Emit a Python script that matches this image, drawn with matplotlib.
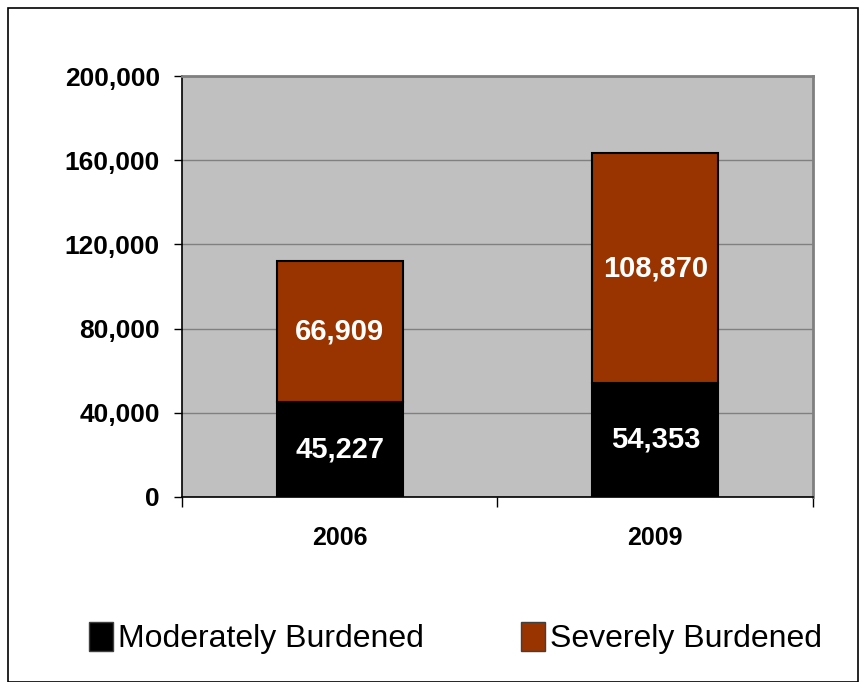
import numpy as np
import matplotlib
matplotlib.use('Agg')
import matplotlib.pyplot as plt
from matplotlib.patches import Rectangle, Patch
from matplotlib.ticker import FuncFormatter

plt.rcParams['font.family'] = ['Liberation Sans', 'DejaVu Sans']

years = ['2006', '2009']
moderate = [45227, 54353]
severe = [66909, 108870]
labels = ['Moderately Burdened', 'Severely Burdened']

col_mod = '#000000'
col_sev = '#993300'

fig = plt.figure(figsize=(8.67, 6.82), dpi=100)
# outer frame of the chart
fig.patches.append(Rectangle((8/867, 0.0), 850/867, 674/682, transform=fig.transFigure,
                             fill=False, edgecolor='black', linewidth=1.2))

ax = fig.add_axes([182/867, 1-497/682, 631/867, 421/682])
ax.set_facecolor('#C0C0C0')

x = np.arange(len(years)) + 0.5
w = 0.4
ax.bar(x, moderate, w, color=col_mod, edgecolor='black', linewidth=1.5, zorder=3)
ax.bar(x, severe, w, bottom=moderate, color=col_sev, edgecolor='black', linewidth=1.5, zorder=3)

for xi, m, s in zip(x, moderate, severe):
    ax.text(xi, m/2, f'{m:,}', ha='center', va='center', color='white',
            fontsize=21, fontweight='bold', zorder=4)
    ax.text(xi, m + s/2, f'{s:,}', ha='center', va='center', color='white',
            fontsize=21, fontweight='bold', zorder=4)

ax.set_xlim(0, 2)
ax.set_ylim(0, 200000)
ax.set_yticks(np.arange(0, 200001, 40000))
ax.yaxis.set_major_formatter(FuncFormatter(lambda v, p: f'{int(v):,}'))
ax.grid(axis='y', color='#808080', linewidth=1, zorder=0)
ax.set_axisbelow(True)

ax.set_xticks([0, 1, 2])
ax.set_xticklabels([])
ax.set_xticks(x, minor=True)
ax.set_xticklabels(years, minor=True, fontsize=18, fontweight='bold')
ax.tick_params(axis='x', which='major', length=7, width=1, direction='out')
ax.tick_params(axis='x', which='minor', length=0, pad=21)
ax.tick_params(axis='y', length=6, width=1, direction='out', pad=10)
for lab in ax.get_yticklabels():
    lab.set_fontsize(19)
    lab.set_fontweight('bold')

ax.spines['top'].set_color('#808080')
ax.spines['right'].set_color('#808080')
ax.spines['top'].set_linewidth(2)
ax.spines['right'].set_linewidth(2)
ax.spines['left'].set_linewidth(1.2)
ax.spines['bottom'].set_linewidth(1.2)

handles = [Patch(facecolor=col_mod, edgecolor='#404040'),
           Patch(facecolor=col_sev, edgecolor='#404040')]
fig.legend(handles, labels, loc='center', bbox_to_anchor=(0.525, 0.064), ncol=2,
           frameon=False, fontsize=23, handlelength=0.75, handleheight=1.0,
           handletextpad=0.15, columnspacing=3.05)

fig.savefig('out.png', dpi=100)
